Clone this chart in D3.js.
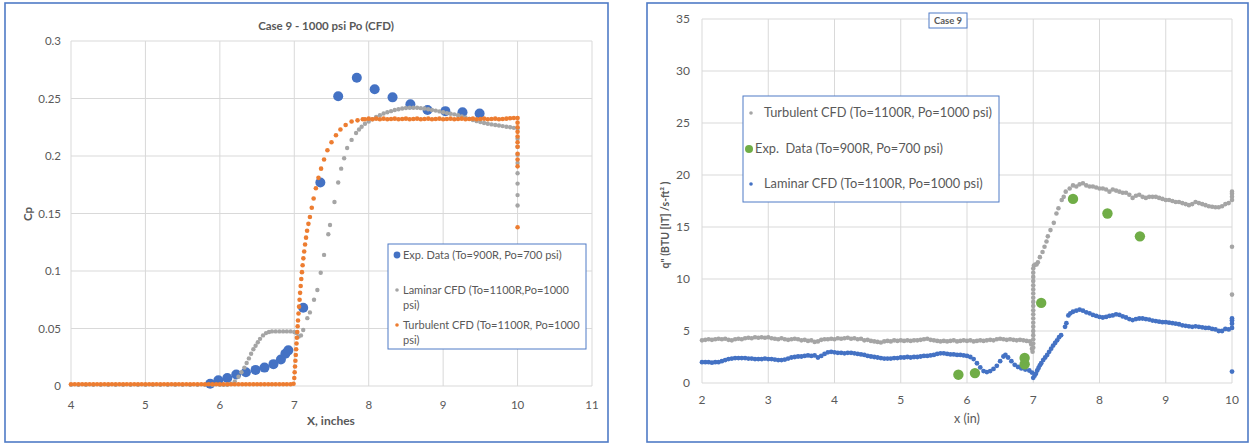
<!DOCTYPE html>
<html><head><meta charset="utf-8">
<script src="https://cdn.jsdelivr.net/npm/d3@7"></script>
<style>body{margin:0;background:#fff}svg{display:block}text{font-family:Lato,"Open Sans",sans-serif}</style>
</head><body><svg id="c" width="1251" height="444"></svg>
<script>
// ---------- LEFT CHART DATA (X inches, Cp) ----------
const leftXTicks = [4,5,6,7,8,9,10,11];
const leftYTicks = [0,0.05,0.1,0.15,0.2,0.25,0.3];
const leftYLabels = ["0","0.05","0.1","0.15","0.2","0.25","0.3"];
const leftExp = [[5.87,.002],[5.98,.005],[6.1,.007],[6.22,.010],[6.35,.012],[6.48,.014],[6.6,.016],[6.72,.019],[6.82,.023],[6.88,.028],[6.92,.031],[7.12,.068],[7.35,.177],[7.59,.252],[7.84,.268],[8.08,.258],[8.32,.251],[8.56,.245],[8.79,.240],[9.03,.239],[9.26,.238],[9.49,.237]];
const leftLam = [[4,.001],[4.1,.001],[4.2,.001],[4.3,.001],[4.4,.001],[4.5,.001],[4.6,.001],[4.7,.001],[4.8,.001],[4.9,.001],[5,.001],[5.1,.001],[5.2,.001],[5.3,.001],[5.4,.001],[5.5,.001],[5.6,.001],[5.7,.001],[5.8,.001],[5.9,.001],[6,.001],[6.05,.001],[6.1,.001],
[6.15,.002],[6.2,.004],[6.25,.008],[6.29,.012],[6.33,.016],[6.36,.020],[6.39,.024],[6.42,.028],[6.45,.032],[6.48,.035],[6.51,.038],[6.54,.041],[6.58,.044],[6.62,.046],[6.66,.047],[6.7,.0475],[6.75,.0475],[6.8,.0475],[6.85,.0475],[6.9,.0475],[6.95,.0475],[7.0,.047],[7.03,.046],[7.06,.043],[7.09,.044],
[7.12,.0487],[7.175,.059],[7.21,.064],[7.265,.075],[7.31,.0835],[7.355,.0985],[7.40,.114],[7.457,.132],[7.48,.140],[7.54,.160],[7.59,.177],[7.63,.189],[7.67,.198],[7.71,.207],[7.77,.214],[7.83,.220],[7.87,.223],[7.905,.2255],
[7.95,.228],[8,.230],[8.05,.232],[8.1,.234],[8.15,.2355],[8.2,.237],[8.25,.238],[8.3,.239],[8.35,.240],[8.4,.2407],[8.45,.2413],[8.5,.2417],[8.55,.242],[8.6,.242],[8.65,.2419],[8.7,.2416],[8.75,.2413],[8.8,.2407],[8.85,.240],[8.9,.2395],[8.95,.2388],[9,.238],[9.05,.2373],[9.1,.2367],[9.15,.2362],[9.2,.2355],[9.25,.2345],[9.3,.2335],[9.35,.2323],[9.4,.2313],[9.45,.2303],[9.5,.2295],[9.55,.2287],[9.6,.228],[9.65,.2275],[9.7,.227],[9.75,.2265],[9.8,.226],[9.85,.2255],[9.9,.225],[9.95,.2245],[10,.224],
[10,.215],[10,.208],[10,.201],[10,.194],[10,.185],[10,.176],[10,.166],[10,.157]];
const leftTurb = [[4,.0015],[4.05,.0015],[4.1,.0015],[4.15,.0015],[4.2,.0015],[4.25,.0015],[4.3,.0015],[4.35,.0015],[4.4,.0015],[4.45,.0015],[4.5,.0015],[4.55,.0015],[4.6,.0015],[4.65,.0015],[4.7,.0015],[4.75,.0015],[4.8,.0015],[4.85,.0015],[4.9,.0015],[4.95,.0015],[5,.0015],[5.05,.0015],[5.1,.0015],[5.15,.0015],[5.2,.0015],[5.25,.0015],[5.3,.0015],[5.35,.0015],[5.4,.0015],[5.45,.0015],[5.5,.0015],[5.55,.0015],[5.6,.0015],[5.65,.0015],[5.7,.0015],[5.75,.0015],[5.8,.0015],[5.85,.0015],[5.9,.0015],[5.95,.0015],[6,.0015],[6.05,.0015],[6.1,.0015],[6.15,.0015],[6.2,.0015],[6.25,.0015],[6.3,.0015],[6.35,.0015],[6.4,.0015],[6.45,.0015],[6.5,.0015],[6.55,.0015],[6.6,.0015],[6.65,.0015],[6.7,.0015],[6.75,.0015],[6.8,.0015],[6.85,.0015],[6.9,.0015],[6.95,.0015],
[6.99,.002],[7.0,.007],[7.005,.012],[7.01,.017],[7.015,.022],[7.02,.027],[7.025,.032],[7.03,.037],[7.035,.042],[7.04,.047],[7.045,.052],[7.05,.057],[7.057,.063],[7.064,.069],[7.071,.075],[7.078,.081],[7.086,.087],[7.094,.093],[7.103,.099],[7.112,.105],[7.122,.111],[7.133,.117],[7.145,.123],[7.158,.129],[7.172,.135],[7.19,.141],[7.21,.147],[7.235,.155],[7.26,.163],[7.29,.172],[7.325,.181],[7.36,.189],[7.40,.197],[7.445,.205],[7.5,.212],[7.56,.218],[7.62,.223],[7.69,.227],[7.77,.230],[7.85,.231],[7.92,.232],
[7.95,.232],[8,.2325],[8.05,.232],[8.1,.2325],[8.15,.232],[8.2,.2325],[8.25,.232],[8.3,.2322],[8.35,.2325],[8.4,.232],[8.45,.2322],[8.5,.2325],[8.55,.232],[8.6,.2322],[8.65,.2325],[8.7,.232],[8.75,.2322],[8.8,.2325],[8.85,.232],[8.9,.2322],[8.95,.2325],[9,.232],[9.05,.2322],[9.1,.2325],[9.15,.232],[9.2,.2322],[9.25,.2325],[9.3,.232],[9.35,.2322],[9.4,.2325],[9.45,.232],[9.5,.2322],[9.55,.2325],[9.6,.232],[9.65,.2322],[9.7,.2325],[9.75,.232],[9.8,.2322],[9.85,.2325],[9.9,.2328],[9.95,.233],[10,.233],
[10,.229],[10,.225],[10,.221],[10,.217],[10,.212],[10,.208],[10,.202],[10,.197],[10,.191],[10,.138]];
const leftLegend = [["Exp. Data (To=900R, Po=700 psi)"],["Laminar CFD (To=1100R,Po=1000","psi)"],["Turbulent CFD (To=1100R, Po=1000","psi)"]];

// ---------- RIGHT CHART DATA (x in, q") ----------
const rightXTicks = [2,3,4,5,6,7,8,9,10];
const rightYTicks = [0,5,10,15,20,25,30,35];
const rightTurb = [[2,4.1],[2.05,4.15],[2.1,4.2],[2.15,4.15],[2.2,4.2],[2.25,4.25],[2.3,4.2],[2.35,4.25],[2.4,4.15],[2.45,4.1],[2.5,4.2],[2.55,4.25],[2.6,4.2],[2.65,4.3],[2.7,4.35],[2.75,4.3],[2.8,4.4],[2.85,4.35],[2.9,4.4],[2.95,4.35],[3,4.4],[3.05,4.3],[3.1,4.25],[3.15,4.2],[3.2,4.3],[3.25,4.2],[3.3,4.15],[3.35,4.2],[3.4,4.25],[3.45,4.2],[3.5,4.1],[3.55,4.15],[3.6,4.05],[3.65,4.1],[3.7,3.95],[3.75,4.0],[3.8,4.15],[3.85,4.2],[3.9,4.2],[3.95,4.25],[4,4.2],[4.05,4.3],[4.1,4.25],[4.15,4.3],[4.2,4.35],[4.25,4.25],[4.3,4.3],[4.35,4.2],[4.4,4.25],[4.45,4.1],[4.5,4.15],[4.55,4.05],[4.6,4.0],[4.65,3.95],[4.7,3.9],[4.75,4.0],[4.8,4.05],[4.85,4.0],[4.9,4.1],[4.95,4.05],[5,4.1],[5.05,4.05],[5.1,4.1],[5.15,4.05],[5.2,4.1],[5.25,4.1],[5.3,4.15],[5.35,4.2],[5.4,4.25],[5.45,4.15],[5.5,4.1],[5.55,4.05],[5.6,4.0],[5.65,4.05],[5.7,4.0],[5.75,4.05],[5.8,4.1],[5.85,4.0],[5.9,4.05],[5.95,4.1],[6,4.05],[6.05,4.1],[6.1,4.0],[6.15,4.05],[6.2,4.1],[6.25,4.05],[6.3,4.1],[6.35,4.15],[6.4,4.1],[6.45,4.2],[6.5,4.25],[6.55,4.2],[6.6,4.15],[6.65,4.2],[6.7,4.15],[6.75,4.1],[6.8,4.15],[6.85,4.1],[6.9,4.05],[6.95,4.0],
[6.97,3.7],[6.98,3.3],[6.99,3.0],[7,3.4],[7,3.8],[7,4.2],[7,4.6],[7,5.0],[7,5.4],[7,5.8],[7,6.2],[7,6.6],[7,7.0],[7,7.4],[7,7.8],[7,8.2],[7,8.6],[7,9.0],[7,9.4],[7,9.8],[7,10.2],[7,10.6],[7,11.0],[7.01,11.3],[7.03,11.4],[7.05,11.4],[7.07,11.6],
[7.1,12.1],[7.14,12.6],[7.17,13.1],[7.2,13.6],[7.22,14.1],[7.26,14.7],[7.31,15.4],[7.35,16.3],[7.38,16.8],[7.43,17.6],[7.46,17.9],[7.49,18.4],[7.55,18.7],[7.6,19.0],[7.65,18.9],[7.7,19.1],
[7.75,19.2],[7.8,19.0],[7.85,18.9],[7.9,18.9],[7.95,18.8],[8,18.7],[8.05,18.7],[8.1,18.6],[8.15,18.4],[8.2,18.6],[8.25,18.5],[8.3,18.4],[8.35,18.3],[8.4,18.3],[8.45,18.1],[8.5,17.8],[8.55,18.0],[8.6,18.1],[8.65,17.9],[8.7,17.8],[8.75,17.9],[8.8,17.9],[8.85,17.9],[8.9,17.8],[8.95,17.7],[9,17.6],[9.05,17.6],[9.1,17.5],[9.15,17.4],[9.2,17.4],[9.25,17.3],[9.3,17.2],[9.35,17.1],[9.4,17.2],[9.45,17.4],[9.5,17.3],[9.55,17.2],[9.6,17.1],[9.65,17.0],[9.7,16.95],[9.75,16.9],[9.8,16.9],[9.85,17.0],[9.9,17.2],[9.95,17.3],[10,17.6],[10,17.9],[10,18.2],[10,18.4],[10,13.1],[10,8.5]];
const rightExp = [[5.87,0.8],[6.12,0.95],[6.87,1.8],[6.87,2.4],[7.12,7.7],[7.6,17.7],[8.12,16.3],[8.61,14.1]];
const rightLam = [[2,2.0],[2.05,2.0],[2.1,2.0],[2.15,1.95],[2.2,2.0],[2.25,2.0],[2.3,2.1],[2.35,2.2],[2.4,2.3],[2.45,2.35],[2.5,2.4],[2.55,2.4],[2.6,2.4],[2.65,2.4],[2.7,2.35],[2.75,2.35],[2.8,2.3],[2.85,2.3],[2.9,2.3],[2.95,2.35],[3,2.3],[3.05,2.3],[3.1,2.25],[3.15,2.2],[3.2,2.2],[3.25,2.25],[3.3,2.35],[3.35,2.45],[3.4,2.5],[3.45,2.55],[3.5,2.55],[3.55,2.6],[3.6,2.65],[3.65,2.6],[3.7,2.65],[3.75,2.45],[3.8,2.6],[3.85,2.8],[3.9,2.95],[3.95,3.0],[4,2.95],[4.05,2.9],[4.1,2.9],[4.15,2.85],[4.2,2.9],[4.25,2.9],[4.3,2.85],[4.35,2.8],[4.4,2.75],[4.45,2.7],[4.5,2.6],[4.55,2.55],[4.6,2.5],[4.65,2.45],[4.7,2.4],[4.75,2.35],[4.8,2.35],[4.85,2.35],[4.9,2.4],[4.95,2.4],[5,2.45],[5.05,2.45],[5.1,2.5],[5.15,2.45],[5.2,2.5],[5.25,2.5],[5.3,2.55],[5.35,2.6],[5.4,2.6],[5.45,2.65],[5.5,2.7],[5.55,2.8],[5.6,2.85],[5.65,2.85],[5.7,2.8],[5.75,2.75],[5.8,2.75],[5.85,2.7],[5.9,2.7],[5.95,2.65],[6,2.6],[6.05,2.5],
[6.1,2.3],[6.15,1.9],[6.2,1.5],[6.25,1.15],[6.3,1.05],[6.35,1.15],[6.4,1.35],[6.45,1.65],[6.5,2.1],[6.55,2.55],[6.58,2.7],[6.62,2.45],[6.67,2.1],[6.72,1.75],[6.77,1.55],[6.82,1.4],[6.88,1.3],[6.94,1.2],[6.98,1.0],[7,0.5],[7.02,0.7],[7.04,0.9],[7.06,1.2],[7.08,1.45],[7.1,1.7],[7.12,1.9],[7.15,2.2],[7.18,2.45],[7.21,2.7],[7.24,3.0],[7.27,3.3],[7.3,3.6],[7.33,3.85],[7.36,4.1],[7.39,4.4],[7.42,4.6],[7.48,5.4],[7.5,5.75],[7.53,6.5],[7.56,6.7],
[7.6,6.85],[7.65,6.95],[7.7,7.05],[7.75,6.95],[7.8,6.8],[7.85,6.7],[7.9,6.55],[7.95,6.45],[8,6.35],[8.05,6.3],[8.1,6.35],[8.15,6.45],[8.2,6.5],[8.25,6.6],[8.3,6.55],[8.35,6.4],[8.4,6.3],[8.45,6.15],[8.5,6.05],[8.55,6.15],[8.6,6.2],[8.65,6.2],[8.7,6.15],[8.75,6.1],[8.8,6.0],[8.85,5.95],[8.9,5.9],[8.95,5.85],[9,5.85],[9.05,5.8],[9.1,5.75],[9.15,5.7],[9.2,5.65],[9.25,5.55],[9.3,5.5],[9.35,5.45],[9.4,5.4],[9.45,5.45],[9.5,5.4],[9.55,5.35],[9.6,5.3],[9.65,5.3],[9.7,5.2],[9.75,5.15],[9.8,5.0],[9.85,5.0],[9.9,5.2],[9.95,5.15],[10,5.3],[10,5.7],[10,6.0],[10,6.2],[10,1.1]];
const rightLegend = ["Turbulent CFD (To=1100R, Po=1000 psi)","Exp.  Data (To=900R, Po=700 psi)","Laminar CFD (To=1100R, Po=1000 psi)"];

// ---------- DRAWING ----------
const svg = d3.select("#c");
const C = {blue:"#4472C4", gray:"#A5A5A5", orange:"#ED7D31", green:"#70AD47", grid:"#D9D9D9", txt:"#595959", frame:"#4F7BC6"};

function frame(x,y,w,h){
  svg.append("rect").attr("x",x).attr("y",y).attr("width",w).attr("height",h)
    .attr("fill","#fff").attr("stroke",C.frame).attr("stroke-width",1.6);
}
function grid(g,xs,ys,xt,yt){
  const [x0,x1]=xs.range(), [y0,y1]=ys.range();
  g.selectAll(null).data(xt).join("line").attr("x1",d=>xs(d)).attr("x2",d=>xs(d)).attr("y1",y0).attr("y2",y1).attr("stroke",C.grid).attr("stroke-width",1);
  g.selectAll(null).data(yt).join("line").attr("y1",d=>ys(d)).attr("y2",d=>ys(d)).attr("x1",x0).attr("x2",x1).attr("stroke",C.grid).attr("stroke-width",1);
}
function dots(g,data,xs,ys,r,col){
  g.selectAll(null).data(data).join("circle").attr("cx",d=>xs(d[0])).attr("cy",d=>ys(d[1])).attr("r",r).attr("fill",col);
}

// Left chart
frame(5,3,603,439);
const xL = d3.scaleLinear().domain([4,11]).range([71,592]);
const yL = d3.scaleLinear().domain([0,0.3]).range([386,41]);
const gL = svg.append("g");
grid(gL,xL,yL,leftXTicks,leftYTicks);
gL.selectAll(null).data(leftYTicks).join("text").attr("x",61).attr("y",d=>yL(d)).attr("dy","0.35em")
  .attr("text-anchor","end").attr("font-size",11.5).attr("fill",C.txt).text((d,i)=>leftYLabels[i]);
gL.selectAll(null).data(leftXTicks).join("text").attr("x",d=>xL(d)).attr("y",405).attr("dy","0.35em")
  .attr("text-anchor","middle").attr("font-size",11.5).attr("fill",C.txt).text(d=>d);
gL.append("text").attr("x",326).attr("y",26).attr("dy","0.35em").attr("text-anchor","middle").attr("font-size",11.5).attr("font-weight","bold").attr("fill",C.txt).text("Case 9 - 1000 psi Po (CFD)");
gL.append("text").attr("x",331).attr("y",421).attr("dy","0.35em").attr("text-anchor","middle").attr("font-size",12).attr("font-weight","bold").attr("fill",C.txt).text("X, inches");
gL.append("text").attr("transform","translate(28,214) rotate(-90)").attr("dy","0.35em").attr("text-anchor","middle").attr("font-size",11.5).attr("font-weight","bold").attr("fill",C.txt).text("Cp");
dots(gL,leftExp,xL,yL,5,C.blue);
dots(gL,leftLam,xL,yL,2.2,C.gray);
dots(gL,leftTurb,xL,yL,2.3,C.orange);
// left legend
const lg = svg.append("g");
lg.append("rect").attr("x",388).attr("y",244).attr("width",198).attr("height",105).attr("fill","#fff").attr("stroke",C.frame).attr("stroke-width",1);
const lCols=[C.blue,C.gray,C.orange], lR=[3.4,1.8,1.8], lY=[255,290,325];
leftLegend.forEach((lines,i)=>{
  lg.append("circle").attr("cx",397).attr("cy",lY[i]).attr("r",lR[i]).attr("fill",lCols[i]);
  lines.forEach((t,j)=>lg.append("text").attr("x",403).attr("y",lY[i]+j*15).attr("dy","0.35em").attr("font-size",11).attr("fill",C.txt).text(t));
});

// Right chart
frame(647,3,601,439);
const xR = d3.scaleLinear().domain([2,10]).range([702,1232]);
const yR = d3.scaleLinear().domain([0,35]).range([383,19]);
const gR = svg.append("g");
grid(gR,xR,yR,rightXTicks,rightYTicks);
gR.selectAll(null).data(rightYTicks).join("text").attr("x",690).attr("y",d=>yR(d)).attr("dy","0.35em")
  .attr("text-anchor","end").attr("font-size",12).attr("fill",C.txt).text(d=>d);
gR.selectAll(null).data(rightXTicks).join("text").attr("x",d=>xR(d)).attr("y",400).attr("dy","0.35em")
  .attr("text-anchor","middle").attr("font-size",12).attr("fill",C.txt).text(d=>d);
gR.append("text").attr("x",967).attr("y",419).attr("dy","0.35em").attr("text-anchor","middle").attr("font-size",12.5).attr("fill",C.txt).text("x (in)");
gR.append("text").attr("transform","translate(665,225) rotate(-90)").attr("dy","0.35em").attr("text-anchor","middle").attr("font-size",10.5).attr("font-weight","bold").attr("fill",C.txt).text("q\" (BTU [IT] /s-ft² )");
gR.append("rect").attr("x",929).attr("y",13).attr("width",38).attr("height",15).attr("fill","#fff").attr("stroke",C.frame).attr("stroke-width",1);
gR.append("text").attr("x",948).attr("y",20.5).attr("dy","0.35em").attr("text-anchor","middle").attr("font-size",9.5).attr("font-weight","bold").attr("fill",C.txt).text("Case 9");
dots(gR,rightTurb,xR,yR,2.3,C.gray);
dots(gR,rightLam,xR,yR,2.4,C.blue);
dots(gR,rightExp,xR,yR,5.2,C.green);
// right legend
const rg = svg.append("g");
rg.append("rect").attr("x",743).attr("y",96).attr("width",256).attr("height",106).attr("fill","#fff").attr("stroke",C.frame).attr("stroke-width",1);
const rCols=[C.gray,C.green,C.blue], rR=[1.8,4,1.8], rY=[113,149,184], rX=[764,755,764], rMX=[751,749,751];
rightLegend.forEach((t,i)=>{
  rg.append("circle").attr("cx",rMX[i]).attr("cy",rY[i]).attr("r",rR[i]).attr("fill",rCols[i]);
  rg.append("text").attr("x",rX[i]).attr("y",rY[i]).attr("dy","0.35em").attr("font-size",12.8).attr("fill",C.txt).style("white-space","pre").text(t);
});
</script></body></html>
